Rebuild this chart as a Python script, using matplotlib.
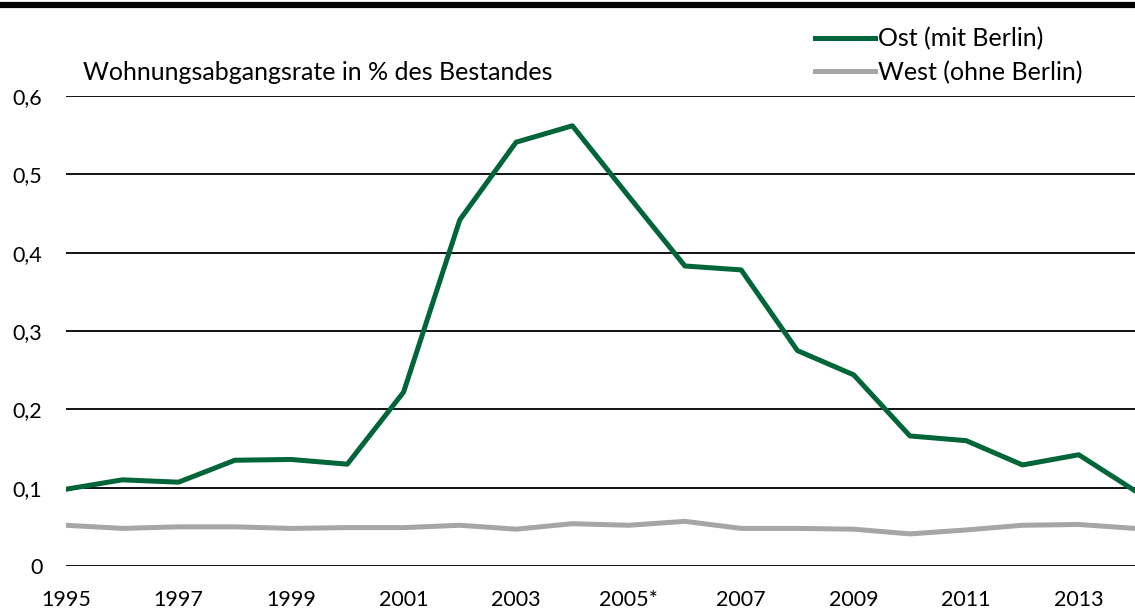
import matplotlib
matplotlib.use("Agg")
import matplotlib.pyplot as plt
from matplotlib.lines import Line2D

plt.rcParams['font.family'] = ['Lato', 'DejaVu Sans']

years = list(range(1995, 2015))
ost = [0.098, 0.110, 0.107, 0.135, 0.136, 0.130, 0.222, 0.442, 0.541, 0.562,
       0.472, 0.383, 0.378, 0.275, 0.244, 0.166, 0.160, 0.129, 0.142, 0.096]
west = [0.052, 0.048, 0.050, 0.050, 0.048, 0.049, 0.049, 0.052, 0.047, 0.054,
        0.052, 0.057, 0.048, 0.048, 0.047, 0.041, 0.046, 0.052, 0.053, 0.048]

tick_years = list(range(1995, 2015, 2))
tick_labels = ['1995', '1997', '1999', '2001', '2003', '2005*', '2007', '2009', '2011', '2013']
y_ticks = [0, 0.1, 0.2, 0.3, 0.4, 0.5, 0.6]
y_labels = ['0', '0,1', '0,2', '0,3', '0,4', '0,5', '0,6']

fig = plt.figure(figsize=(11.35, 6.1), dpi=100)
ax = fig.add_axes([66 / 1135, 1 - 566 / 610, 1 - 66 / 1135, (566 - 96) / 610])

ax.plot(years, ost, color='#00663A', lw=3.6, label='Ost (mit Berlin)', zorder=3)
ax.plot(years, west, color='#A6A6A6', lw=3.6, label='West (ohne Berlin)', zorder=3)

ax.set_xlim(1995, 2014)
ax.set_ylim(0, 0.6)
ax.set_xticks(tick_years)
ax.set_xticklabels(tick_labels)
ax.set_yticks(y_ticks)
ax.set_yticklabels(y_labels)
ax.tick_params(axis='both', length=0, labelsize=15.5, colors='black')
ax.tick_params(axis='y', pad=17)
ax.tick_params(axis='x', pad=17)
ax.grid(axis='y', color='black', lw=1.3)
ax.set_axisbelow(True)
for s in ax.spines.values():
    s.set_visible(False)

# title inside the chart area
fig.text(83 / 1135, 1 - 73 / 610, 'Wohnungsabgangsrate in % des Bestandes',
         fontsize=18, va='center', ha='left')

# thick rule along the top
fig.add_artist(Line2D([0, 1], [1 - 5 / 610, 1 - 5 / 610], transform=fig.transFigure,
                      color='black', lw=4.5))

leg = fig.legend(loc='upper left', bbox_to_anchor=(815 / 1135, 1 - 27 / 610),
                 frameon=False, fontsize=18, handlelength=2.4, handletextpad=0.1,
                 borderpad=0, borderaxespad=0, labelspacing=0.42)

fig.savefig('out.png', dpi=100)
